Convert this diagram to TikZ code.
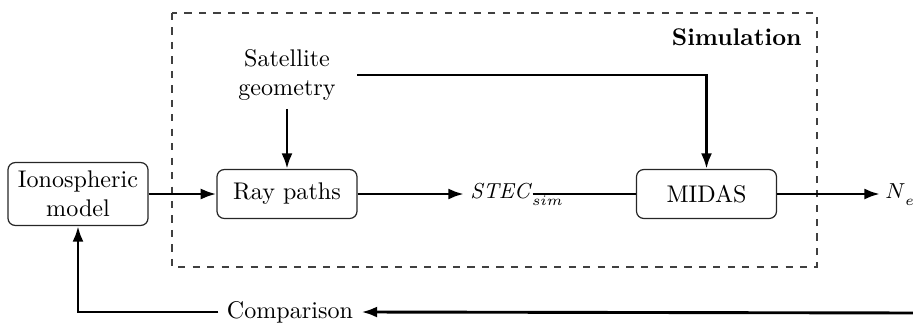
\documentclass[tikz,border=0pt]{standalone}
\usetikzlibrary{arrows.meta}
\begin{document}
\begin{tikzpicture}[x=0.415pt,y=-0.415pt,
  box/.style={draw=black!85, line width=0.5pt, rounded corners=3pt, minimum width=58.1pt, align=center, inner sep=0pt},
  arr/.style={-{Latex[length=6.5pt,width=4.6pt]}, line width=1.2pt},
  ln/.style={line width=1.2pt}]
\useasboundingbox (0,0) rectangle (913,322);
\draw[dashed, draw=black!75, line width=0.45pt] (172,13) rectangle (817,267);
\node[anchor=base east, inner sep=0pt, font=\bfseries] (simlabel) at (802,45) {Simulation};
\node[box, minimum height=26.1pt] (iono) at (78,194) {Ionospheric\\model};
\node[box, minimum height=20.3pt] (ray) at (287,194) {Ray paths};
\node[box, minimum height=20.3pt] (midas) at (706.5,194) {MIDAS};
\node[align=center, minimum width=58.1pt, minimum height=27.4pt, inner sep=3.33pt] (sat) at (287,75) {Satellite\\geometry};
\node[anchor=base west, inner xsep=0pt, inner ysep=2pt, font=\fontsize{9}{11}\selectfont] (stec) at (470,198) {\textit{STEC}\rlap{\raisebox{-3pt}{$\scriptstyle sim$}}};
\node[anchor=base west, inner xsep=2pt, font=\fontsize{9}{11}\selectfont] (ne) at (880,198) {$N$\rlap{\raisebox{-3pt}{$\scriptstyle e$}}};
\node (comp) at (290,312) {Comparison};
\coordinate (rightend) at (925,313);

\draw[arr] (iono) -- (ray);
\draw[arr] (sat.south) -- (ray.north);
\draw[arr] (sat.east) -| (midas.north);
\draw[arr, shorten >=2.5pt] (ray) -- (ray -| stec.west);
\draw[ln] (midas -| stec.east) -- (midas);
\draw[arr] (midas) -- (midas -| ne.west);
\draw[arr] (rightend) -- (comp.east);
\draw[arr] (comp.west) -| (iono.south);
\end{tikzpicture}
\end{document}
